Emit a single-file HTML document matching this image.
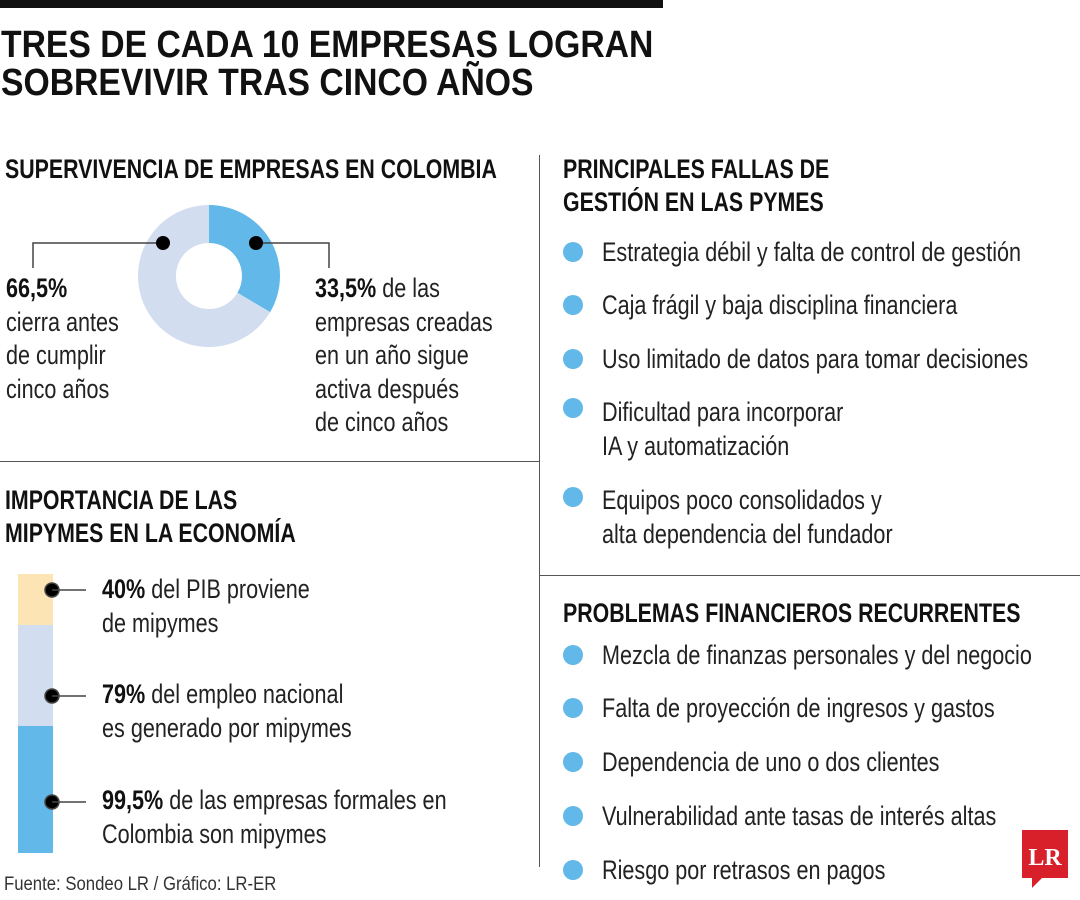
<!DOCTYPE html>
<html><head><meta charset="utf-8">
<style>
*{margin:0;padding:0;box-sizing:border-box}
body{width:1080px;height:900px;background:#fff;position:relative;overflow:hidden;font-family:"Liberation Sans",sans-serif;color:#1a1a1a}
.a{position:absolute;white-space:nowrap}
.h{font-weight:bold;font-size:27px;line-height:33px;color:#111;transform:scaleX(0.79);transform-origin:0 0}
.t{font-size:27px;line-height:33.5px;color:#222;transform:scaleX(0.80);transform-origin:0 0}
b{font-weight:bold;color:#111}
.dot{position:absolute;width:20px;height:20px;border-radius:50%;background:#62b8e8}
</style></head><body>
<div class="a" style="left:0;top:0;width:663px;height:8px;background:#111"></div>
<div class="a" style="left:1px;top:26px;font-weight:bold;font-size:38px;line-height:38px;color:#111;transform:scaleX(0.887);transform-origin:0 0">TRES DE CADA 10 EMPRESAS LOGRAN<br>SOBREVIVIR TRAS CINCO AÑOS</div>

<div class="a" style="left:539px;top:155px;width:1px;height:712px;background:#555"></div>
<div class="a" style="left:0;top:461px;width:540px;height:1px;background:#555"></div>
<div class="a" style="left:540px;top:575px;width:540px;height:1px;background:#555"></div>

<div class="a h" style="left:5px;top:153px">SUPERVIVENCIA DE EMPRESAS EN COLOMBIA</div>
<svg class="a" style="left:0;top:190px" width="540" height="260" id="donut"></svg>
<div class="a t" style="left:6px;top:272px"><b>66,5%</b><br>cierra antes<br>de cumplir<br>cinco años</div>
<div class="a t" style="left:315px;top:272px"><b>33,5%</b> de las<br>empresas creadas<br>en un año sigue<br>activa después<br>de cinco años</div>

<div class="a h" style="left:5px;top:484px">IMPORTANCIA DE LAS<br>MIPYMES EN LA ECONOMÍA</div>
<div class="a" style="left:18px;top:574px;width:35px;height:51px;background:#fde4b4"></div>
<div class="a" style="left:18px;top:625px;width:35px;height:101px;background:#d3ddf0"></div>
<div class="a" style="left:18px;top:726px;width:35px;height:127px;background:#62b8e8"></div>
<svg class="a" style="left:0;top:560px" width="100" height="300">
<g fill="#000" stroke="#444" stroke-width="1.5">
<circle cx="52" cy="30" r="7"/><line x1="52" y1="30" x2="86" y2="30"/>
<circle cx="52" cy="136" r="7"/><line x1="52" y1="136" x2="86" y2="136"/>
<circle cx="52" cy="242" r="7"/><line x1="52" y1="242" x2="86" y2="242"/>
</g></svg>
<div class="a t" style="left:102px;top:573px"><b>40%</b> del PIB proviene<br>de mipymes</div>
<div class="a t" style="left:102px;top:678px"><b>79%</b> del empleo nacional<br>es generado por mipymes</div>
<div class="a t" style="left:102px;top:784px"><b>99,5%</b> de las empresas formales en<br>Colombia son mipymes</div>
<div class="a" style="left:4px;top:874px;font-size:19px;color:#333;transform:scaleX(0.88);transform-origin:0 0">Fuente: Sondeo LR / Gráfico: LR-ER</div>

<div class="a h" style="left:563px;top:153px">PRINCIPALES FALLAS DE<br>GESTIÓN EN LAS PYMES</div>
<div class="dot" style="left:563px;top:242px"></div>
<div class="a t" style="left:602px;top:236px">Estrategia débil y falta de control de gestión</div>
<div class="dot" style="left:563px;top:295px"></div>
<div class="a t" style="left:602px;top:289px">Caja frágil y baja disciplina financiera</div>
<div class="dot" style="left:563px;top:349px"></div>
<div class="a t" style="left:602px;top:343px">Uso limitado de datos para tomar decisiones</div>
<div class="dot" style="left:563px;top:398px"></div>
<div class="a t" style="left:602px;top:396px">Dificultad para incorporar<br>IA y automatización</div>
<div class="dot" style="left:563px;top:487px"></div>
<div class="a t" style="left:602px;top:484px">Equipos poco consolidados y<br>alta dependencia del fundador</div>

<div class="a h" style="left:563px;top:597px">PROBLEMAS FINANCIEROS RECURRENTES</div>
<div class="dot" style="left:563px;top:645px"></div>
<div class="a t" style="left:602px;top:639px">Mezcla de finanzas personales y del negocio</div>
<div class="dot" style="left:563px;top:698px"></div>
<div class="a t" style="left:602px;top:692px">Falta de proyección de ingresos y gastos</div>
<div class="dot" style="left:563px;top:752px"></div>
<div class="a t" style="left:602px;top:746px">Dependencia de uno o dos clientes</div>
<div class="dot" style="left:563px;top:806px"></div>
<div class="a t" style="left:602px;top:800px">Vulnerabilidad ante tasas de interés altas</div>
<div class="dot" style="left:563px;top:860px"></div>
<div class="a t" style="left:602px;top:854px">Riesgo por retrasos en pagos</div>

<svg class="a" style="left:1020px;top:828px" width="50" height="62">
<path d="M2 2H48V50H22L12 60V50H2Z" fill="#d8202a"/>
<text x="25" y="37" text-anchor="middle" font-family="Liberation Serif,serif" font-weight="bold" font-size="24" fill="#fff">LR</text>
</svg>

<script>
const labels=["Activas","Cerradas"];
const values=[33.5,66.5];
const colors=["#62b8e8","#d3ddf0"];
const svg=document.getElementById('donut');
const NS="http://www.w3.org/2000/svg";
const cx=209,cy=86,R=71,r=33;
function pt(rad,a){return [cx+rad*Math.sin(a),cy-rad*Math.cos(a)];}
const total=values.reduce((s,v)=>s+v,0);
let a0=0;
values.forEach((v,i)=>{
  const a1=a0+v/total*2*Math.PI;
  const large=(a1-a0)>Math.PI?1:0;
  const [x1,y1]=pt(R,a0),[x2,y2]=pt(R,a1),[x3,y3]=pt(r,a1),[x4,y4]=pt(r,a0);
  const p=document.createElementNS(NS,'path');
  p.setAttribute('d',`M${x1} ${y1}A${R} ${R} 0 ${large} 1 ${x2} ${y2}L${x3} ${y3}A${r} ${r} 0 ${large} 0 ${x4} ${y4}Z`);
  p.setAttribute('fill',colors[i]);
  
  
  svg.appendChild(p);
  a0=a1;
});
const lead=document.createElementNS(NS,'g');


lead.innerHTML='<polyline points="163,53 33,53 33,78" fill="none" stroke="#444" stroke-width="1.5"/><polyline points="256,53 329,53 329,78" fill="none" stroke="#444" stroke-width="1.5"/><circle cx="163" cy="53" r="7"/><circle cx="256" cy="53" r="7"/>';
svg.appendChild(lead);
</script>
</body></html>
